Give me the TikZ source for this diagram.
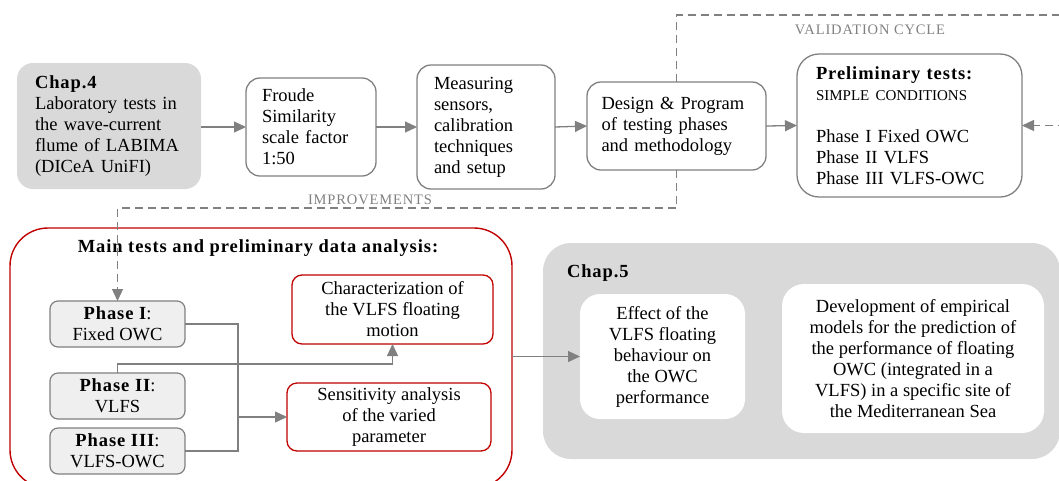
\documentclass[tikz,border=0pt]{standalone}
\usepackage{fontspec}
\setmainfont{Liberation Serif}
\newfontfamily\spacedbf[LetterSpace=5]{Liberation Serif}
\newfontfamily\spacedcaps[LetterSpace=6]{Liberation Serif}
\usetikzlibrary{arrows.meta,calc}
\definecolor{linegray}{HTML}{808080}
\definecolor{chapfill}{HTML}{D9D9D9}
\definecolor{phasefill}{HTML}{EFEFEF}
\definecolor{boxred}{HTML}{C00000}
\newcommand{\hd}[1]{{\spacedbf\bfseries #1}}
\tikzset{
  txt/.style={font=\fontsize{18.5}{21}\selectfont, inner sep=0pt, outer sep=0pt},
  flowbox/.style={txt, draw=linegray, line width=1.3pt, rounded corners=14pt, fill=white, align=left},
  chapbox/.style={txt, fill=chapfill, draw=none},
  phasebox/.style={txt, draw=linegray, fill=phasefill, line width=1.2pt, rounded corners=8pt,
    minimum width=135pt, minimum height=46pt, align=center},
  resultbox/.style={txt, draw=boxred, line width=1.3pt, rounded corners=10pt, fill=white, align=center},
  innerbox/.style={txt, fill=white, rounded corners=20pt, align=center},
  plainline/.style={draw=linegray, line width=1.3pt},
  flow/.style={plainline, -{Triangle[length=12pt,width=11pt]}},
  dashflow/.style={flow, dash pattern=on 8pt off 5pt},
  cyclelabel/.style={font=\spacedcaps\fontsize{14.5}{17}\selectfont, text=linegray, inner sep=0pt}
}
\begin{document}
\begin{tikzpicture}[x=1pt,y=-1pt]
\useasboundingbox (0,0) rectangle (1059,480);
\clip (0,0) rectangle (1059,480);

% large containers
\node[txt, draw=boxred, line width=1.4pt, rounded corners=38pt,
      minimum width=502pt, minimum height=260pt] (main) at (261,358) {};
\node[chapbox, rounded corners=28pt, minimum width=517pt, minimum height=216pt] (chap5) at (801.5,351) {};

% top row
\node[chapbox, rounded corners=16pt, minimum width=184pt, minimum height=126pt,
      text width=148pt, inner xsep=18pt, align=left] (chap4) at (109,126)
  {\hd{Chap.4}\\Laboratory tests in\\the wave-current\\flume of LABIMA\\(DICeA UniFI)};
\node[flowbox, minimum width=130pt, minimum height=98pt, text width=98pt, inner xsep=16pt] (froude) at (311,127)
  {Froude\\Similarity\\scale factor\\1:50};
\node[flowbox, minimum width=138pt, minimum height=124pt, text width=104pt, inner xsep=17pt] (measuring) at (486,127)
  {Measuring\\sensors,\\calibration\\techniques\\and setup};
\node[flowbox, minimum width=179pt, minimum height=88pt, text width=150pt, inner xsep=14.5pt] (design) at (676.5,126)
  {Design \& Program\\of testing phases\\and methodology};
\node[flowbox, rounded corners=22pt, minimum width=225pt, minimum height=143pt, text width=187pt, inner xsep=19pt] (prelim) at (909.5,125.5)
  {\hd{Preliminary tests:}\\{\fontsize{15}{21}\selectfont SIMPLE CONDITIONS}\\[21pt]Phase I Fixed OWC\\Phase II VLFS\\Phase III VLFS-OWC};

\draw[flow] (chap4.east |- froude.west) -- (froude.west);
\draw[flow] (froude.east) -- (measuring.west);
\draw[flow] (measuring.east) -- (design.west);
\draw[flow] (design.east) -- (prelim.west);

% validation cycle and improvements loops
\coordinate (vtop) at (676.5,15);
\coordinate (vright) at (1075,15);
\draw[dashflow] (design.north) -- (vtop) -- (vright) |- (prelim.east);
\node[cyclelabel, anchor=base] (valid) at (870,34) {VALIDATION CYCLE};

\coordinate (impcorner) at (117.5,208);
\node[cyclelabel, anchor=base] (improv) at (370,204) {IMPROVEMENTS};

% main tests block
\node[txt, anchor=base] (maintitle) at (258,252) {\hd{Main tests and preliminary data analysis:}};
\node[phasebox] (phase1) at (117.5,324) {\hd{Phase I}:\\Fixed OWC};
\node[phasebox] (phase2) at (117.5,396) {\hd{Phase II}:\\VLFS};
\node[phasebox] (phase3) at (117.5,451) {\hd{Phase III}:\\VLFS-OWC};
\node[resultbox, minimum width=201pt, minimum height=69pt] (charact) at (392.5,309.5)
  {Characterization of\\the VLFS floating\\motion};
\node[resultbox, minimum width=204pt, minimum height=68pt] (sens) at (389,417)
  {Sensitivity analysis\\of the varied\\parameter};

\draw[dashflow] (design.south) |- (impcorner) -- (phase1.north);

\coordinate (merge) at (238,417);
\draw[plainline] (phase1.east) -| (merge);
\draw[plainline] (phase3.east) -| (merge);
\draw[flow] (merge) -- (sens.west);
\draw[flow] (phase2.north) |- ($(charact.south)+(0,20)$) -- (charact.south);

% chapter 5 block
\node[txt, anchor=base west] (chap5title) at (567,277) {\hd{Chap.5}};
\node[innerbox, minimum width=165pt, minimum height=125pt] (effect) at (662.5,356.5)
  {Effect of the\\VLFS floating\\behaviour on\\the OWC\\performance};
\node[innerbox, rounded corners=22pt, minimum width=262pt, minimum height=149pt] (develop) at (913,358.5)
  {Development of empirical\\models for the prediction of\\the performance of floating\\OWC (integrated in a\\VLFS) in a specific site of\\the Mediterranean Sea};

\draw[flow] (main.east |- effect.west) -- (effect.west);
\end{tikzpicture}
\end{document}
